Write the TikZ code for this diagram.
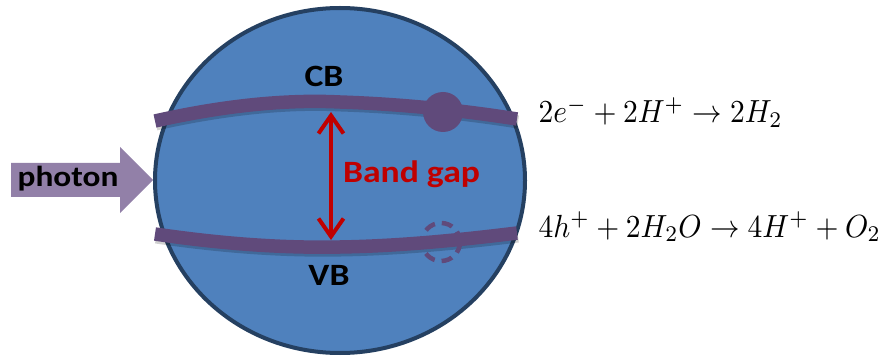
\documentclass[tikz,border=0pt]{standalone}
\usepackage{fontspec}
\newfontfamily\calibri{Carlito}
\usetikzlibrary{arrows.meta,shapes.geometric}
\definecolor{ballblue}{RGB}{79,129,189}
\definecolor{balledge}{RGB}{37,64,97}
\definecolor{bandpurple}{RGB}{96,74,123}
\definecolor{photonpurple}{RGB}{146,128,168}
\definecolor{gapred}{RGB}{192,0,0}
\begin{document}
\begin{tikzpicture}[x=1pt,y=-1pt,
  band/.style={draw=bandpurple,line width=13.5pt},
  bandshadow/.style={draw=black,opacity=0.18,line width=13pt},
  lbl/.style={font=\calibri\bfseries\fontsize{31}{36}\selectfont, inner sep=0pt, xscale=1.15, anchor=base},
  eq/.style={inner sep=0pt, xscale=2.95, yscale=3.2, anchor=base west},
  gaparrow/.style={draw=gapred, line width=4pt, {Straight Barb[length=18pt,width=25pt]}-{Straight Barb[length=18pt,width=25pt]}}]
\useasboundingbox (0,0) rectangle (891,358);
% particle
\node[ellipse, draw=balledge, line width=4pt, fill=ballblue, minimum width=370pt, minimum height=345pt, inner sep=0pt] (ball) at (340,180.5) {};
% photon arrow
\fill[photonpurple] (11,163) -- (120,163) -- (120,147) -- (153,180) -- (120,213) -- (120,197) -- (11,197) -- cycle;
\node[lbl, font=\calibri\bfseries\fontsize{29}{34}\selectfont] (photon) at (68,187) {photon};
% band coordinates
\coordinate (cbL) at (155,121);
\coordinate (cbR) at (517,119);
\coordinate (vbL) at (155,234);
\coordinate (vbR) at (517,233);
% shadows
\draw[bandshadow, transform canvas={shift={(1pt,-3pt)}}] (cbL) .. controls (240,102) and (300,100) .. (340,102) .. controls (400,104) and (460,110) .. (cbR);
\draw[bandshadow, transform canvas={shift={(1pt,-3pt)}}] (vbL) .. controls (230,245) and (290,248) .. (340,247) .. controls (400,246) and (460,240) .. (vbR);
% hole (behind VB)
\node[circle, draw=bandpurple, dash pattern=on 11pt off 7pt, line width=4.5pt, minimum size=38pt, inner sep=0pt] (hole) at (441,242) {};
% bands
\draw[band] (cbL) .. controls (240,102) and (300,100) .. (340,102) .. controls (400,104) and (460,110) .. (cbR);
\draw[band] (vbL) .. controls (230,245) and (290,248) .. (340,247) .. controls (400,246) and (460,240) .. (vbR);
% electron
\node[circle, fill=bandpurple, minimum size=40pt, inner sep=0pt] (electron) at (443,112) {};
% band gap arrow
\coordinate (gaptop) at (331,112);
\coordinate (gapbot) at (331,240);
\draw[gaparrow] (gaptop) -- (gapbot);
% labels
\node[lbl] (cb) at (324,87) {CB};
\node[lbl] (vb) at (329,285) {VB};
\node[lbl, text=gapred] (gap) at (411.5,183) {Band gap};
% equations
\node[eq] (eqtop) at (538,123) {$2e^- + 2H^+ \rightarrow 2H_2$};
\node[eq] (eqbot) at (538,237) {$4h^+ + 2H_2O \rightarrow 4H^+ + O_2$};
\end{tikzpicture}
\end{document}
